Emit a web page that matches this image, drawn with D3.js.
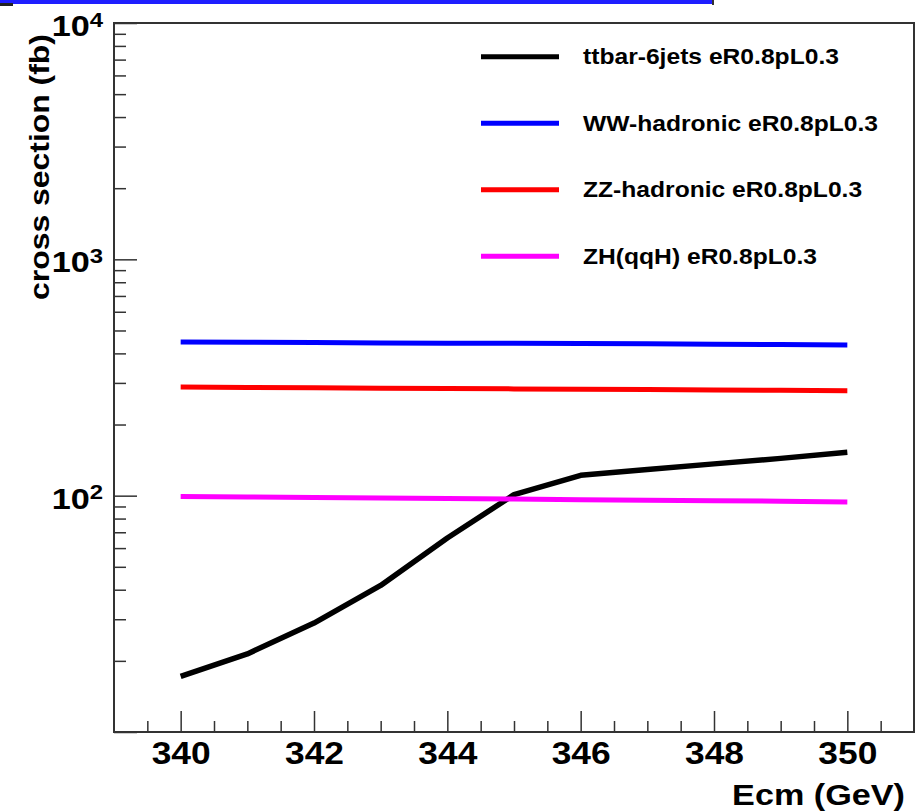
<!DOCTYPE html>
<html>
<head>
<meta charset="utf-8">
<script src="https://cdn.jsdelivr.net/npm/d3@7"></script>
<style>
  body { margin: 0; background: #fff; }
  text { font-family: "Liberation Sans", Arial, sans-serif; font-weight: bold; fill: #000; }
</style>
</head>
<body>
<div id="graph"></div>
<script>
// centre-of-mass energy points (GeV)
let energies = [340, 341, 342, 343, 344, 345, 346, 347, 348, 349, 350];

// cross sections (fb)
let ttbar = [17.2, 21.4, 28.9, 41.7, 66.2, 101, 121.9, 128.9, 136.3, 143.8, 152.5];
let ww = [447, 446, 445, 443, 442, 441, 440, 439, 437, 436, 434];
let zz = [288, 287, 286, 285, 284, 283, 282, 281, 280, 279, 278];
let zh = [99.3, 98.8, 98.3, 97.8, 97.3, 96.8, 96.2, 95.7, 95.2, 94.7, 94.1];

let series_names = ["ttbar-6jets eR0.8pL0.3", "WW-hadronic eR0.8pL0.3",
    "ZZ-hadronic eR0.8pL0.3", "ZH(qqH) eR0.8pL0.3"];
let series_colors = ["#000000", "#0000ff", "#ff0000", "#ff00ff"];

// tick values
let x_ticks = [340, 342, 344, 346, 348, 350];
let y_ticks = [10, 100, 1000, 10000];

const width = 919, height = 812;
const margin = {left: 114, top: 23, right: 5, bottom: 80};
const plot_w = width - margin.left - margin.right;
const plot_h = height - margin.top - margin.bottom;
// the original font is a bit wider than Liberation Sans
const stretch = 1.14;

let svg = d3.select("#graph")
    .append("svg")
    .attr("width", width)
    .attr("height", height);

// blue strip along the top edge
svg.append("rect").attr("x", 0).attr("y", 0).attr("width", 713).attr("height", 4).attr("fill", "#1e1eff");
svg.append("rect").attr("x", 0).attr("y", 3).attr("width", 13).attr("height", 3).attr("fill", "#222");
svg.append("rect").attr("x", 712).attr("y", 0).attr("width", 2).attr("height", 5).attr("fill", "#333");

let g = svg.append("g")
    .attr("transform", `translate(${margin.left}, ${margin.top})`);

// scales
let x = d3.scaleLinear()
    .domain([339, 351])
    .range([0, plot_w]);

let y = d3.scaleLog()
    .domain([10, 10000])
    .range([plot_h, 0]);

// frame
g.append("rect")
    .attr("width", plot_w)
    .attr("height", plot_h)
    .attr("fill", "none")
    .attr("stroke", "#333")
    .attr("stroke-width", 2);

// x minor ticks every 0.5
let x_minor = d3.range(339.5, 351, 0.5).filter(v => !x_ticks.includes(v));
g.append("g")
    .attr("transform", `translate(0, ${plot_h})`)
    .attr("color", "#333")
    .call(d3.axisBottom(x).tickValues(x_minor).tickSizeInner(-11).tickSizeOuter(0).tickFormat(""))
    .call(a => a.select(".domain").remove())
    .selectAll("line").attr("stroke-width", 1.5);

// x major ticks with labels
let x_axis = g.append("g")
    .attr("transform", `translate(0, ${plot_h})`)
    .attr("color", "#333")
    .call(d3.axisBottom(x).tickValues(x_ticks).tickSizeInner(-21).tickSizeOuter(0).tickPadding(10));
x_axis.select(".domain").remove();
x_axis.selectAll("line").attr("stroke-width", 1.5);
x_axis.selectAll("text")
    .attr("font-size", 31)
    .attr("transform", `scale(${stretch}, 1)`);

// y minor ticks 2..9 in each decade
let y_minor = [];
y_ticks.slice(0, -1).forEach(dec => {
    for (let m = 2; m <= 9; m++) y_minor.push(dec * m);
});
g.append("g")
    .attr("color", "#333")
    .call(d3.axisLeft(y).tickValues(y_minor).tickSizeInner(-12).tickSizeOuter(0).tickFormat(""))
    .call(a => a.select(".domain").remove())
    .selectAll("line").attr("stroke-width", 1.5);

// y major ticks, labels as powers of ten (bottom one left blank)
let y_axis = g.append("g")
    .attr("color", "#333")
    .call(d3.axisLeft(y).tickValues(y_ticks).tickSizeInner(-23).tickSizeOuter(0)
        .tickPadding(11 / stretch).tickFormat(""));
y_axis.select(".domain").remove();
y_axis.selectAll("line").attr("stroke-width", 1.5);
y_axis.selectAll("text")
    .attr("font-size", 30)
    .attr("dy", "0.42em")
    .attr("transform", `scale(${stretch}, 1)`)
    .each(function(d) {
        if (d <= y.domain()[0]) return;
        let t = d3.select(this);
        t.append("tspan").text("10");
        t.append("tspan")
            .attr("font-size", 21)
            .attr("dy", -9.5)
            .text(Math.round(Math.log10(d)));
    });

// axis titles
svg.append("text")
    .attr("transform", `translate(905, 805) scale(${stretch}, 1)`)
    .style("text-anchor", "end")
    .attr("font-size", 30)
    .text("Ecm (GeV)");

svg.append("text")
    .attr("transform", `translate(49, 300) rotate(-90) scale(${stretch}, 1)`)
    .style("text-anchor", "start")
    .attr("font-size", 28)
    .text("cross section (fb)");

// curves
let all_series = [ttbar, ww, zz, zh];
let line = d3.line()
    .x(d => x(d[0]))
    .y(d => y(d[1]));

all_series.forEach((vals, i) => {
    g.append("path")
        .datum(energies.map((e, j) => [e, vals[j]]))
        .attr("fill", "none")
        .attr("stroke", series_colors[i])
        .attr("stroke-width", i == 0 ? 5.5 : 5)
        .attr("stroke-linejoin", "round")
        .attr("d", line);
});

// legend
let legend = svg.append("g");
series_names.forEach((name, i) => {
    let ly = 56.7 + i * 66.5;
    legend.append("line")
        .attr("x1", 481).attr("x2", 559)
        .attr("y1", ly).attr("y2", ly)
        .attr("stroke", series_colors[i])
        .attr("stroke-width", 5);
    legend.append("text")
        .attr("transform", `translate(583, ${ly + 7.5}) scale(${stretch - 0.02}, 1)`)
        .attr("font-size", 22)
        .text(name);
});
</script>
</body>
</html>
